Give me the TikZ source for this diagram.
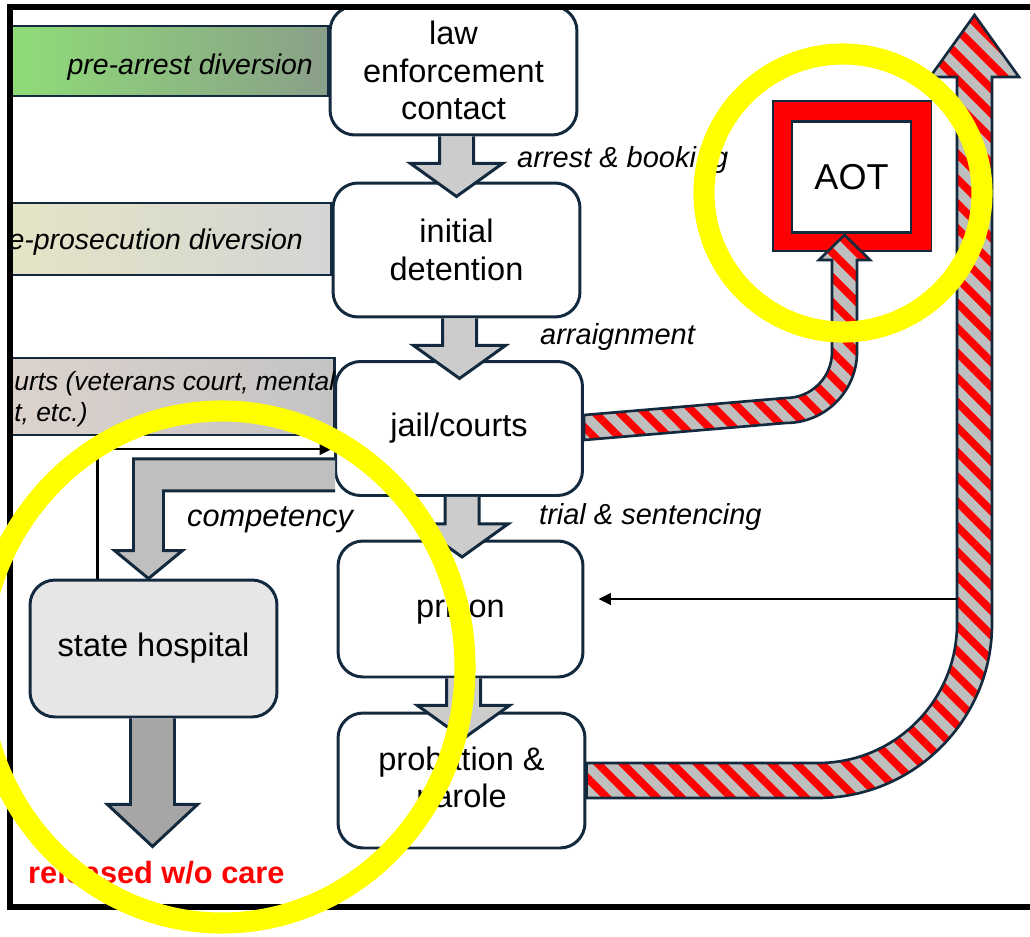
\documentclass[tikz,border=0pt]{standalone}
\usepackage{fontspec}
\setmainfont{Liberation Sans}
\usetikzlibrary{calc,arrows.meta,patterns.meta,backgrounds}

\definecolor{edge}{HTML}{13293D}
\definecolor{boxgray}{HTML}{E6E6E6}
\definecolor{arrowgray}{HTML}{CCCCCC}
\definecolor{cmpgray}{HTML}{BFBFBF}
\definecolor{dkgray}{HTML}{A6A6A6}
\definecolor{hatchgray}{HTML}{BFBFBF}
\definecolor{greenL}{HTML}{8FDC78}
\definecolor{greenR}{HTML}{8A9F89}
\definecolor{sandL}{HTML}{E4E4C6}
\definecolor{sandR}{HTML}{D4D4D4}
\definecolor{roseL}{HTML}{DCD2CC}
\definecolor{roseR}{HTML}{C4C4C4}
\definecolor{marker}{HTML}{FFFF00}

% gray block arrow hanging below a box
\newcommand{\stepArrow}[1]{%
  \draw[blockline, fill=arrowgray] ($(#1.south)+(-14,0)$) -- ++(0,27) -- ++(-29,0)
    -- ++(46,33) -- ++(46,-33) -- ++(-29,0) -- ++(0,-27);}

\begin{document}
\begin{tikzpicture}[x=0.02cm, y=-0.02cm,
    box/.style={draw=edge, line width=1.7pt, rounded corners=0.5cm, fill=white,
      minimum width=4.94cm, minimum height=2.68cm, align=center,
      font=\fontsize{18.5}{21.5}\selectfont},
    aotbox/.style={draw=edge, line width=1.1pt, fill=white, minimum width=2.36cm,
      minimum height=2.2cm, font=\fontsize{20.5}{24}\selectfont},
    blockline/.style={draw=edge, line width=1.7pt, line join=miter},
    bar/.style={draw=edge, line width=1.7pt},
    divtext/.style={font=\fontsize{16.2}{19}\itshape},
    steptext/.style={anchor=west, font=\fontsize{16.5}{19}\itshape},
    hatch/.style={draw=edge, line width=1.5pt, preaction={fill=hatchgray},
      pattern={Lines[angle=-45,distance=10pt,line width=4.4pt]}, pattern color=red},
    thinarr/.style={line width=1.4pt, -{Triangle[length=7pt,width=6.5pt]}},
    ring/.style={draw=marker, line width=12pt}]
    \useasboundingbox (0,0) rectangle (1030,936);

    % Stages of the justice process
    \node[box, minimum height=2.58cm] (law) at (453.5,70.5) {law\\enforcement\\contact};
    \node[box] (init) at (456.5,250) {initial\\detention};
    \node[box] (jail) at (459,428.5) {jail/courts};
    \node[box, minimum width=4.9cm, minimum height=2.72cm] (prison) at (460.5,609) {prison};
    \node[box, minimum height=2.7cm] (prob) at (461.5,780.5) {probation \&\\parole};
    \node[box, fill=boxgray, minimum height=2.74cm] (hosp) at (153.5,648.5) {state hospital};

    % AOT box with red frame
    \node[aotbox] (aot) at (851.5,177) {AOT};
    \draw[edge, line width=1.1pt, fill=red, even odd rule]
      ($(aot.south west)+(-19,18)$) rectangle ($(aot.north east)+(20,-20)$)
      (aot.south west) rectangle (aot.north east);

    % Diversion bars on the left
    \begin{pgfonlayer}{background}
      \draw[bar, left color=greenL, right color=greenR] (11,26) rectangle ($(law.west)+(0,25.5)$);
      \draw[bar, left color=sandL, right color=sandR] (11,203) rectangle ($(init.west)+(0,25)$);
      \draw[bar, left color=roseL, right color=roseR] (11,358) rectangle ($(jail.west)+(0,6.5)$);
    \end{pgfonlayer}
    \node[divtext, anchor=east] (pretxt) at (319,67) {pre-arrest diversion};
    \node[divtext, anchor=east] (prostxt) at (309,242) {e-prosecution diversion};
    \node[anchor=west, align=left, inner sep=0pt, font=\fontsize{15}{17.5}\itshape] (crttxt)
      at (14,399) {urts (veterans court, mental\\t, etc.)};

    % Steps between stages
    \stepArrow{law}
    \stepArrow{init}
    \stepArrow{jail}
    \stepArrow{prison}
    \node[steptext] (lbook) at (511,160) {arrest \& booking};
    \node[steptext] (larr) at (534,337) {arraignment};
    \node[steptext] (ltrial) at (533,517) {trial \& sentencing};
    \node[steptext, font=\fontsize{17.5}{20}\itshape] (lcomp) at (181,520) {competency};

    % Competency transfer and return
    \draw[blockline, fill=cmpgray] ($(jail.south west)+(1,-38)$) -| ($(hosp.north)+(-20,-28)$)
      -- ++(-19,0) -- ($(hosp.north)+(-5,0)$) -- ++(34,-28) -- ++(-19,0)
      |- ($(jail.south west)+(1,-6)$);
    \draw[thinarr] ($(hosp.north west)+(69,0)$) |- ($(jail.south west)+(-2,-48)$);

    % Release from state hospital
    \draw[blockline, fill=dkgray] ($(hosp.south)+(-23,0)$) -- ++(0,86) -- ++(-23,0)
      -- ++(45,42) -- ++(45,-42) -- ++(-23,0) -- ++(0,-86);
    \node[anchor=west, text=red, font=\fontsize{17.5}{20}\bfseries] (relsd) at (22,873) {released w/o care};

    % Hatched route from jail to AOT
    \draw[hatch] ($(jail.east)+(0,-13.5)$) -- ($(aot.south)+(-65.5,165)$)
      arc[start angle=90, end angle=0, radius=46] -- ($(aot.south)+(-19.5,27)$)
      -- ++(-13,0) -- ($(aot.south)+(-7,2)$) -- ++(25.5,25) -- ++(-13,0)
      -- ($(aot.south)+(5.5,119)$) arc[start angle=0, end angle=90, radius=71]
      -- ($(jail.east)+(0,11.5)$) -- cycle;

    % Hatched route out of probation
    \coordinate (exitTop) at (974.5,15);
    \coordinate (bigIn) at (957,599);
    \draw[hatch] ($(prob.east)+(0,-17.5)$) -- (818,763)
      arc[start angle=90, end angle=0, radius=139] -- (957,77) -- (930,77)
      -- (exitTop) -- (1019,77) -- (992,77) -- (992,624)
      arc[start angle=0, end angle=90, radius=174] -- ($(prob.east)+(0,17.5)$) -- cycle;
    \draw[thinarr] (bigIn) -- ($(prison.east)+(14,-10)$);

    % Frame
    \draw[line width=3.2pt] (10,7) rectangle (1040,907);

    % Highlight rings
    \draw[ring] (843,193) circle[radius=139];
    \draw[ring] (222,667) ellipse[x radius=243, y radius=256];
\end{tikzpicture}
\end{document}
